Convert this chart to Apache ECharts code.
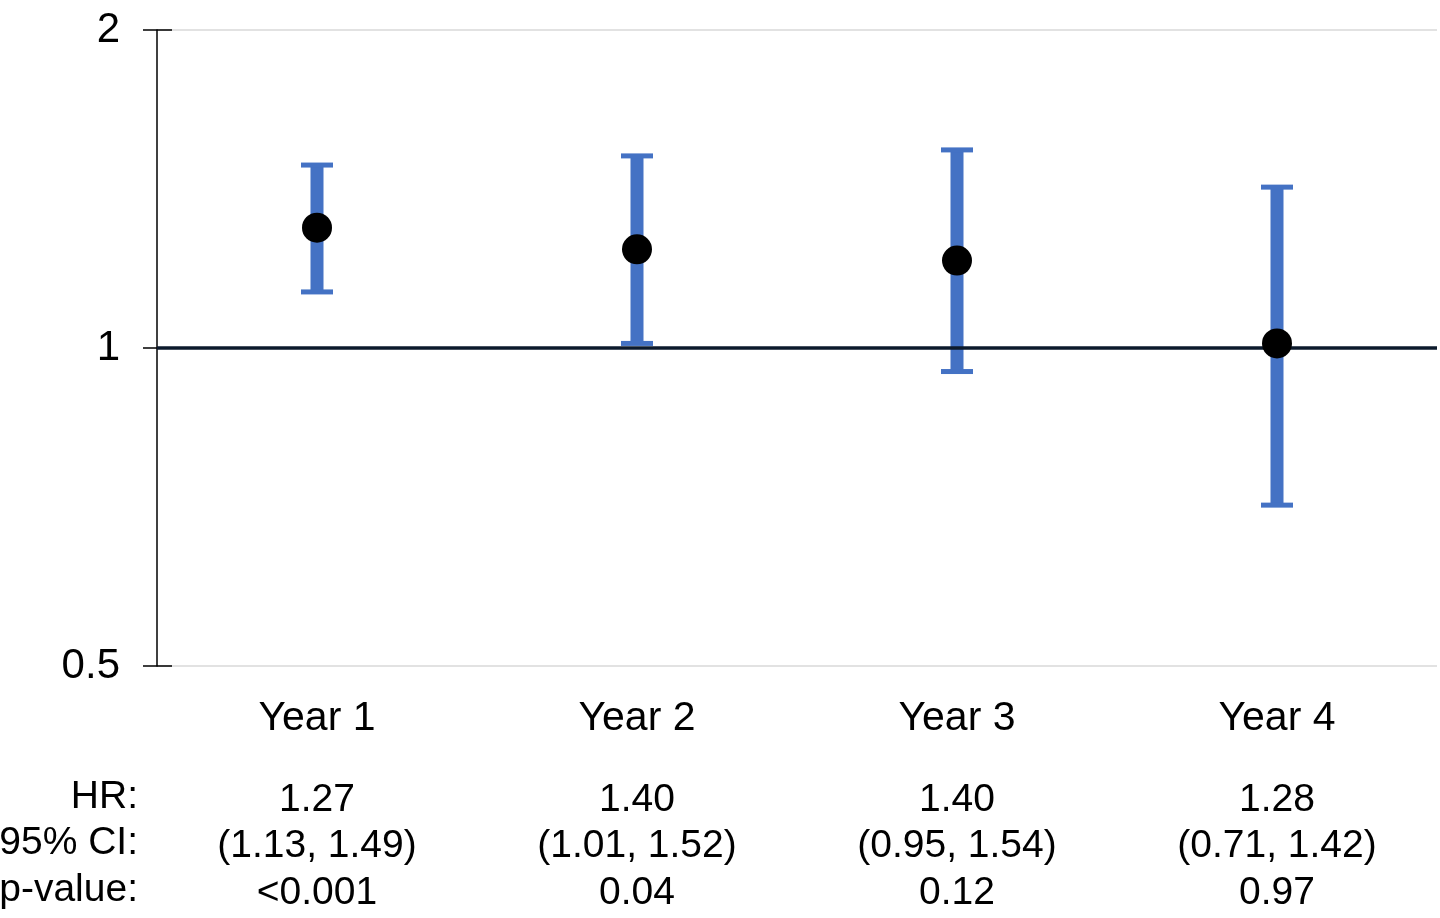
<!DOCTYPE html>
<html>
<head>
<meta charset="utf-8">
<script src="https://cdn.jsdelivr.net/npm/echarts@6/dist/echarts.min.js"></script>
<style>
html,body{margin:0;padding:0;background:#fff;}
#chart{width:1440px;height:918px;}
</style>
</head>
<body>
<div id="chart"></div>
<script>
// ---- data ----
const categories = ['Year 1', 'Year 2', 'Year 3', 'Year 4'];
const pointValues = [1.30, 1.24, 1.21, 1.01];
const ciLow = [1.13, 1.01, 0.95, 0.71];
const ciHigh = [1.49, 1.52, 1.54, 1.42];
const hrLabels = ['1.27', '1.40', '1.40', '1.28'];
const ciLabels = ['(1.13, 1.49)', '(1.01, 1.52)', '(0.95, 1.54)', '(0.71, 1.42)'];
const pLabels = ['<0.001', '0.04', '0.12', '0.97'];
const rowTitles = ['HR:', '95% CI:', 'p-value:'];
const yTicks = [0.5, 1, 2];

const FONT = '"Liberation Sans", Arial, sans-serif';
const FS_TABLE = 39;
const FS_CAT = 41;
const FS_TICK = 42;
const BLUE = '#4472C4';

const chart = echarts.init(document.getElementById('chart'), null, {renderer: 'canvas'});

function tableAxis(labels, offset) {
  return {
    type: 'category',
    data: categories,
    gridIndex: 0,
    position: 'bottom',
    offset: offset,
    axisLine: {show: false},
    axisTick: {show: false},
    splitLine: {show: false},
    axisLabel: {
      margin: 0,
      fontFamily: FONT, fontSize: FS_TABLE, color: '#000',
      formatter: (v, i) => labels[i]
    }
  };
}

const errData = categories.map((c, i) => [i, ciLow[i], ciHigh[i]]);
const rowY = [797, 843, 890];

const option = {
  animation: false,
  backgroundColor: '#fff',
  grid: {left: 157, top: 30, right: 3, bottom: 252, containLabel: false},
  xAxis: [
    {
      type: 'category',
      data: categories,
      boundaryGap: true,
      axisLine: {show: false},
      axisTick: {show: false},
      splitLine: {show: false},
      axisLabel: {margin: 32, fontFamily: FONT, fontSize: FS_CAT, color: '#000', interval: 0}
    },
    tableAxis(hrLabels, 115),
    tableAxis(ciLabels, 161),
    tableAxis(pLabels, 208)
  ],
  yAxis: [
    {
      type: 'log',
      logBase: 2,
      min: yTicks[0],
      max: yTicks[yTicks.length - 1],
      axisLine: {show: true, lineStyle: {color: '#000', width: 1.5}},
      axisTick: {show: true, length: 14, inside: false, lineStyle: {color: '#000', width: 1.5}},
      splitLine: {show: true, lineStyle: {color: '#d9d9d9', width: 1.5}},
      axisLabel: {
        margin: 37,
        fontFamily: FONT, fontSize: FS_TICK, color: '#000',
        formatter: v => String(+(+v).toFixed(2))
      }
    },
    {
      type: 'log',
      logBase: 2,
      min: yTicks[0],
      max: yTicks[yTicks.length - 1],
      position: 'left',
      axisLine: {show: false},
      axisTick: {show: true, length: 15, inside: true, lineStyle: {color: '#000', width: 1.5}},
      splitLine: {show: false},
      axisLabel: {show: false}
    }
  ],
  graphic: rowTitles.map((t, i) => ({
    type: 'text',
    x: 138,
    y: rowY[i],
    style: {text: t, font: FS_TABLE + 'px ' + FONT, fill: '#000', align: 'right', verticalAlign: 'middle'}
  })),
  series: [
    {
      type: 'custom',
      xAxisIndex: 0,
      yAxisIndex: 0,
      data: errData,
      z: 2,
      markLine: {
        silent: true,
        symbol: 'none',
        label: {show: false},
        lineStyle: {color: '#0c1a2c', width: 3.5, type: 'solid', opacity: 1},
        data: [{yAxis: 1}]
      },
      renderItem: function (params, api) {
        const x = api.value(0);
        const lo = api.coord([x, api.value(1)]);
        const hi = api.coord([x, api.value(2)]);
        const capW = 32, barW = 13, capH = 5;
        return {
          type: 'group',
          children: [
            {type: 'rect', shape: {x: lo[0] - barW / 2, y: hi[1], width: barW, height: lo[1] - hi[1]}, style: {fill: BLUE}},
            {type: 'rect', shape: {x: hi[0] - capW / 2, y: hi[1] - capH / 2, width: capW, height: capH}, style: {fill: BLUE}},
            {type: 'rect', shape: {x: lo[0] - capW / 2, y: lo[1] - capH / 2, width: capW, height: capH}, style: {fill: BLUE}}
          ]
        };
      }
    },
    {
      type: 'scatter',
      xAxisIndex: 0,
      yAxisIndex: 0,
      data: pointValues.map((v, i) => [i, v]),
      symbol: 'circle',
      symbolSize: 30,
      itemStyle: {color: '#000', opacity: 1},
      z: 5
    }
  ]
};

chart.setOption(option);
</script>
</body>
</html>
